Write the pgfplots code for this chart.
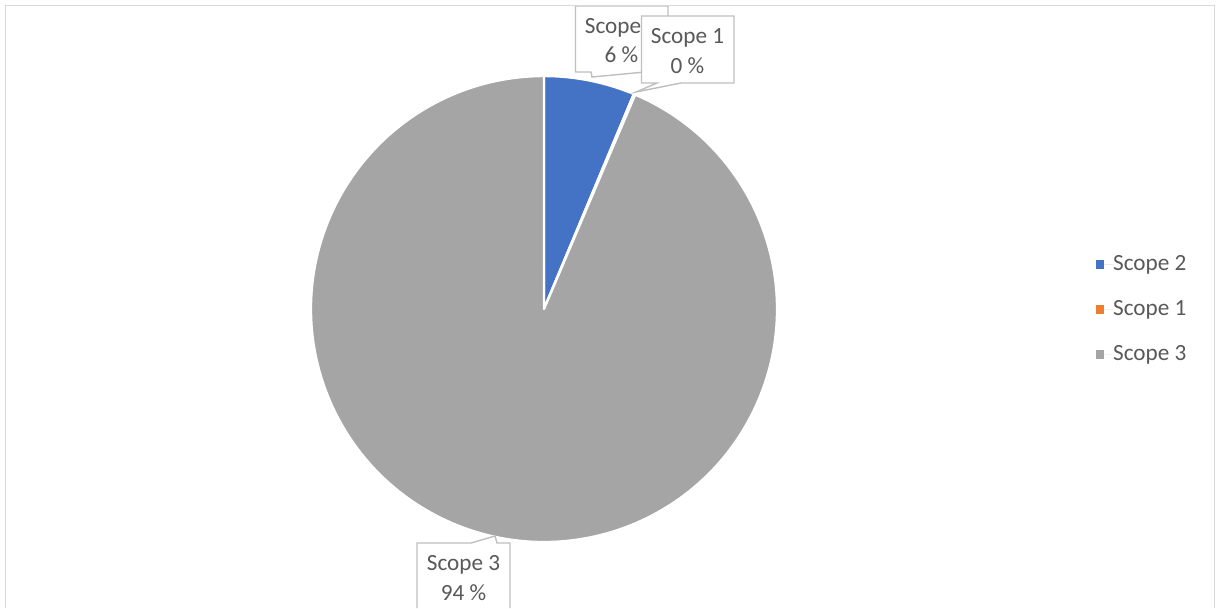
\documentclass[border=0pt]{standalone}
\usepackage{pgfplots}
\pgfplotsset{compat=1.18}
\usepackage{pgfplotstable}
\usepackage{fontspec}
\setmainfont{Carlito}
\definecolor{cSii}{HTML}{4472C4}
\definecolor{cSi}{HTML}{ED7D31}
\definecolor{cSiii}{HTML}{A5A5A5}
\definecolor{txt}{HTML}{595959}
\definecolor{framec}{HTML}{D9D9D9}
\definecolor{callc}{HTML}{BFBFBF}
\newcommand\lbl{\fontsize{11.6bp}{14bp}\selectfont}

\pgfplotstableread{
name value
S2 6.3
S1 0.1
S3 93.6
}\piedata
\pgfplotstablegetelem{0}{value}\of\piedata \xdef\vA{\pgfplotsretval}%
\pgfplotstablegetelem{1}{value}\of\piedata \xdef\vB{\pgfplotsretval}%
\pgfplotstablegetelem{2}{value}\of\piedata \xdef\vC{\pgfplotsretval}%
\pgfmathsetmacro\aA{90-3.6*\vA}\xdef\aA{\aA}%
\pgfmathsetmacro\aB{\aA-3.6*\vB}\xdef\aB{\aB}%
\pgfmathsetmacro\aC{\aB-3.6*\vC}\xdef\aC{\aC}%

\begin{document}%
\begin{tikzpicture}
\begin{axis}[at={(0,0)}, anchor=south west, scale only axis,
  width=608bp, height=304bp,
  xmin=0, xmax=1216, ymin=0, ymax=608, y dir=reverse,
  hide axis, clip=false, xtick=\empty, ytick=\empty,
  legend style={at={(axis cs:1095.5,254)}, anchor=north west, draw=none, fill=none,
    inner sep=0pt, outer sep=0pt, font=\lbl, text=txt, row sep=12bp,
    nodes={inner sep=0pt, text height=8bp, text depth=2.5bp}},
  legend cell align=left,
  legend image code/.code={\fill[#1] (0bp,-2.2bp) rectangle (4.4bp,2.2bp); \path (0bp,0bp) -- (8.8bp,0bp);},
]
\addlegendimage{fill=cSii, draw=none}
\addlegendentry{Scope 2}
\addlegendimage{fill=cSi, draw=none}
\addlegendentry{Scope 1}
\addlegendimage{fill=cSiii, draw=none}
\addlegendentry{Scope 3}

\path (axis cs:0,0) rectangle (axis cs:1216,608);

% pie slices
\filldraw[fill=cSii, draw=white, line width=1.2bp, line join=round]
  (axis cs:544,309) -- +(90:116.5bp) arc[start angle=90, end angle=\aA, radius=116.5bp] -- cycle;
\filldraw[fill=cSi, draw=white, line width=1.2bp, line join=round]
  (axis cs:544,309) -- +(\aA:116.5bp) arc[start angle=\aA, end angle=\aB, radius=116.5bp] -- cycle;
\filldraw[fill=cSiii, draw=white, line width=1.2bp, line join=round]
  (axis cs:544,309) -- +(\aB:116.5bp) arc[start angle=\aB, end angle=\aC, radius=116.5bp] -- cycle;

% callout Scope 2
\filldraw[fill=white, draw=callc, line width=0.7bp]
  (axis cs:575.5,6) -- (axis cs:668,6) -- (axis cs:668,72) -- (axis cs:645,72)
  -- (axis cs:592,77) -- (axis cs:591,72) -- (axis cs:575.5,72) -- cycle;
\node[anchor=base, font=\lbl, text=txt, inner sep=0pt] at (axis cs:621.5,33) {Scope 2};
\node[anchor=base, font=\lbl, text=txt, inner sep=0pt] at (axis cs:621.5,62) {6 \%};

% callout Scope 1
\filldraw[fill=white, draw=callc, line width=0.7bp]
  (axis cs:641.5,16) -- (axis cs:734,16) -- (axis cs:734,83) -- (axis cs:681,83)
  -- (axis cs:636,92) -- (axis cs:657,83) -- (axis cs:641.5,83) -- cycle;
\node[anchor=base, font=\lbl, text=txt, inner sep=0pt] at (axis cs:687.5,43) {Scope 1};
\node[anchor=base, font=\lbl, text=txt, inner sep=0pt] at (axis cs:687.5,73) {0 \%};

% callout Scope 3 (box runs past the lower edge)
\fill[white] (axis cs:417,543) rectangle (axis cs:510,608);
\draw[callc, line width=0.7bp]
  (axis cs:417,608) -- (axis cs:417,543) -- (axis cs:471,543) -- (axis cs:495,536) -- (axis cs:497,543)
  -- (axis cs:510,543) -- (axis cs:510,608);
\node[anchor=base, font=\lbl, text=txt, inner sep=0pt] at (axis cs:463.5,570) {Scope 3};
\node[anchor=base, font=\lbl, text=txt, inner sep=0pt] at (axis cs:463.5,600) {94 \%};

% chart frame
\draw[framec, line width=0.75bp] (axis cs:5.5,608) -- (axis cs:5.5,5.5) -- (axis cs:1214.5,5.5) -- (axis cs:1214.5,608);
\end{axis}
\end{tikzpicture}%
\end{document}
